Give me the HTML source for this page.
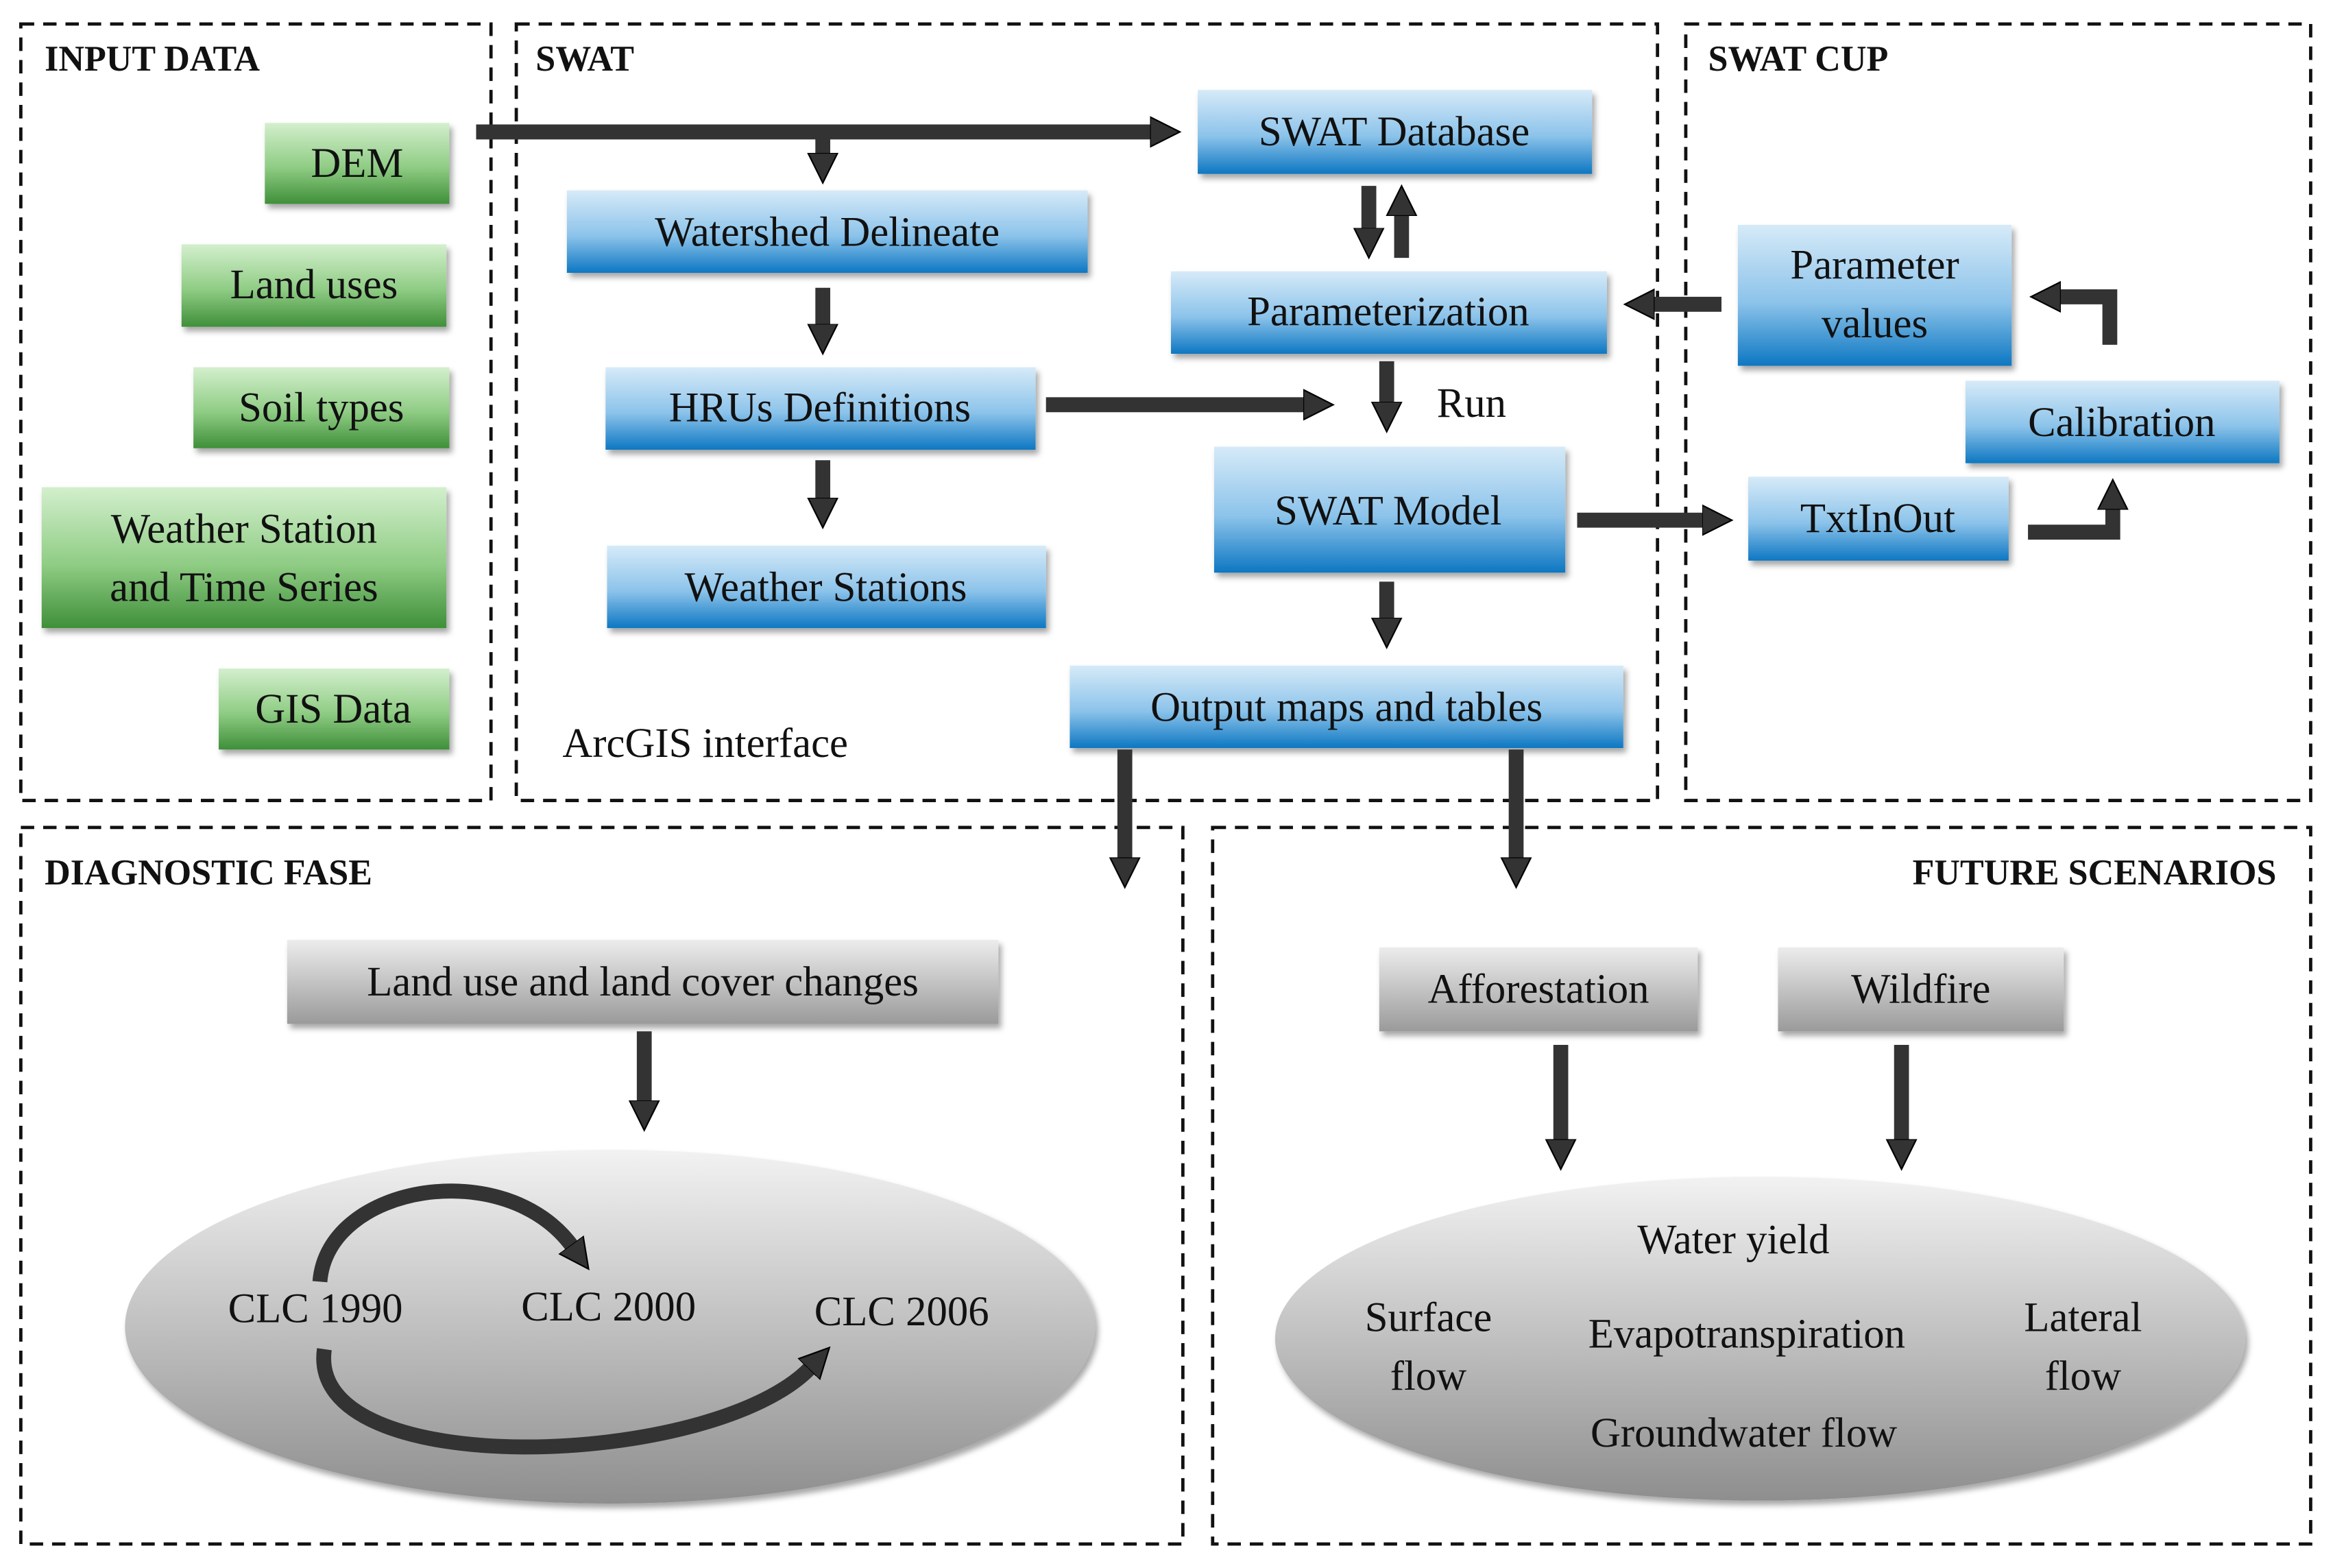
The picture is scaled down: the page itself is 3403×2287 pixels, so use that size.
<!DOCTYPE html>
<html><head><meta charset="utf-8"><style>
html,body{margin:0;padding:0;background:#fff;}
svg{display:block;}
</style></head><body>
<svg width="3403" height="2287" viewBox="0 0 1568 1046" preserveAspectRatio="none" xmlns="http://www.w3.org/2000/svg" font-family="'Liberation Serif', 'Noto Serif CJK SC', serif">
<defs>
<linearGradient id="g" x1="0" y1="0" x2="0" y2="1"><stop offset="0" stop-color="#d3efcd"/><stop offset="0.55" stop-color="#8fcc84"/><stop offset="1" stop-color="#3f8f39"/></linearGradient>
<linearGradient id="b" x1="0" y1="0" x2="0" y2="1"><stop offset="0" stop-color="#d6eaf8"/><stop offset="0.55" stop-color="#8cc3ea"/><stop offset="1" stop-color="#0d77c2"/></linearGradient>
<linearGradient id="y" x1="0" y1="0" x2="0" y2="1"><stop offset="0" stop-color="#ececec"/><stop offset="1" stop-color="#9a9a9a"/></linearGradient>
<linearGradient id="e" x1="0" y1="0" x2="0" y2="1"><stop offset="0" stop-color="#f2f2f2"/><stop offset="1" stop-color="#8e8e8e"/></linearGradient>
<filter id="s" x="-10%" y="-10%" width="130%" height="140%"><feDropShadow dx="2" dy="3" stdDeviation="2" flood-color="#000" flood-opacity="0.35"/></filter>
<marker id="a" markerUnits="userSpaceOnUse" markerWidth="24" markerHeight="24" refX="2" refY="12" orient="auto"><path d="M0,2 L20,12 L0,22 Z" fill="#333" stroke="#000" stroke-width="1"/></marker>
</defs>
<g fill="none" stroke="#111" stroke-width="2.2" stroke-dasharray="9,6">
<rect x="14" y="16" width="316" height="518"/>
<rect x="347" y="16" width="767" height="518"/>
<rect x="1133" y="16" width="420" height="518"/>
<rect x="14" y="552" width="781" height="478"/>
<rect x="815" y="552" width="738" height="478"/>
</g>
<g font-family="'Liberation Serif', serif" font-size="24" font-weight="bold" fill="#111">
<text x="30" y="47">INPUT DATA</text>
<text x="360" y="47">SWAT</text>
<text x="1148" y="47">SWAT CUP</text>
<text x="30" y="590">DIAGNOSTIC FASE</text>
<text x="1530" y="590" text-anchor="end">FUTURE SCENARIOS</text>
</g>
<g filter="url(#s)">
<rect x="178" y="82" width="124" height="54" fill="url(#g)"/>
<rect x="122" y="163" width="178" height="55" fill="url(#g)"/>
<rect x="130" y="245" width="172" height="54" fill="url(#g)"/>
<rect x="28" y="325" width="272" height="94" fill="url(#g)"/>
<rect x="147" y="446" width="155" height="54" fill="url(#g)"/>
<rect x="805" y="60" width="265" height="56" fill="url(#b)"/>
<rect x="381" y="127" width="350" height="55" fill="url(#b)"/>
<rect x="787" y="181" width="293" height="55" fill="url(#b)"/>
<rect x="407" y="245" width="289" height="55" fill="url(#b)"/>
<rect x="408" y="364" width="295" height="55" fill="url(#b)"/>
<rect x="816" y="298" width="236" height="84" fill="url(#b)"/>
<rect x="719" y="444" width="372" height="55" fill="url(#b)"/>
<rect x="1168" y="150" width="184" height="94" fill="url(#b)"/>
<rect x="1321" y="254" width="211" height="55" fill="url(#b)"/>
<rect x="1175" y="318" width="175" height="56" fill="url(#b)"/>
<rect x="193" y="627" width="478" height="56" fill="url(#y)"/>
<rect x="927" y="632" width="214" height="56" fill="url(#y)"/>
<rect x="1195" y="632" width="192" height="56" fill="url(#y)"/>
<ellipse cx="410" cy="885" rx="326" ry="118" fill="url(#e)"/>
<ellipse cx="1183" cy="893" rx="326" ry="108" fill="url(#e)"/>
</g>
<g font-family="'Liberation Serif', 'Noto Serif CJK SC', serif" font-size="28" text-anchor="middle" fill="#111">
<text x="240" y="118">DEM</text>
<text x="211" y="199">Land uses</text>
<text x="216" y="281">Soil types</text>
<text x="164" y="362">Weather Station</text>
<text x="164" y="401">and Time Series</text>
<text x="224" y="482">GIS Data</text>
<text x="937" y="97">SWAT Database</text>
<text x="556" y="164">Watershed Delineate</text>
<text x="933" y="217">Parameterization</text>
<text x="551" y="281">HRUs Definitions</text>
<text x="555" y="401">Weather Stations</text>
<text x="933" y="350">SWAT Model</text>
<text x="905" y="481">Output maps and tables</text>
<text x="1260" y="186">Parameter</text>
<text x="1260" y="225">values</text>
<text x="1426" y="291">Calibration</text>
<text x="1262" y="355">TxtInOut</text>
<text x="432" y="664">Land use and land cover changes</text>
<text x="1034" y="669">Afforestation</text>
<text x="1291" y="669">Wildfire</text>
<text x="989" y="278">Run</text>
<text x="474" y="505">ArcGIS interface</text>
<text x="212" y="882">CLC 1990</text>
<text x="409" y="881">CLC 2000</text>
<text x="606" y="884">CLC 2006</text>
<text x="1165" y="836">Water yield</text>
<text x="960" y="888">Surface</text>
<text x="960" y="927">flow</text>
<text x="1174" y="899">Evapotranspiration</text>
<text x="1400" y="888">Lateral</text>
<text x="1400" y="927">flow</text>
<text x="1172" y="965">Groundwater flow</text>
</g>
<g stroke="#333" stroke-width="10" fill="none" marker-end="url(#a)">
<path d="M320,88 H775"/>
<path d="M553,88 V104"/>
<path d="M553,192 V218"/>
<path d="M553,307 V334"/>
<path d="M920,124 V154"/>
<path d="M942,172 V142"/>
<path d="M703,270 H878"/>
<path d="M932,241 V270"/>
<path d="M932,388 V414"/>
<path d="M1157,203 H1110"/>
<path d="M1060,347 H1146"/>
<path d="M1363,355 H1420 V338"/>
<path d="M1418,230 V198 H1383"/>
<path d="M756,500 V574"/>
<path d="M1019,500 V574"/>
<path d="M433,688 V736"/>
<path d="M1049,697 V762"/>
<path d="M1278,697 V762"/>
<path d="M215,855 C220,790 340,770 385,832"/>
<path d="M218,900 C205,990 480,980 545,912"/>
</g>
</svg>
</body></html>
